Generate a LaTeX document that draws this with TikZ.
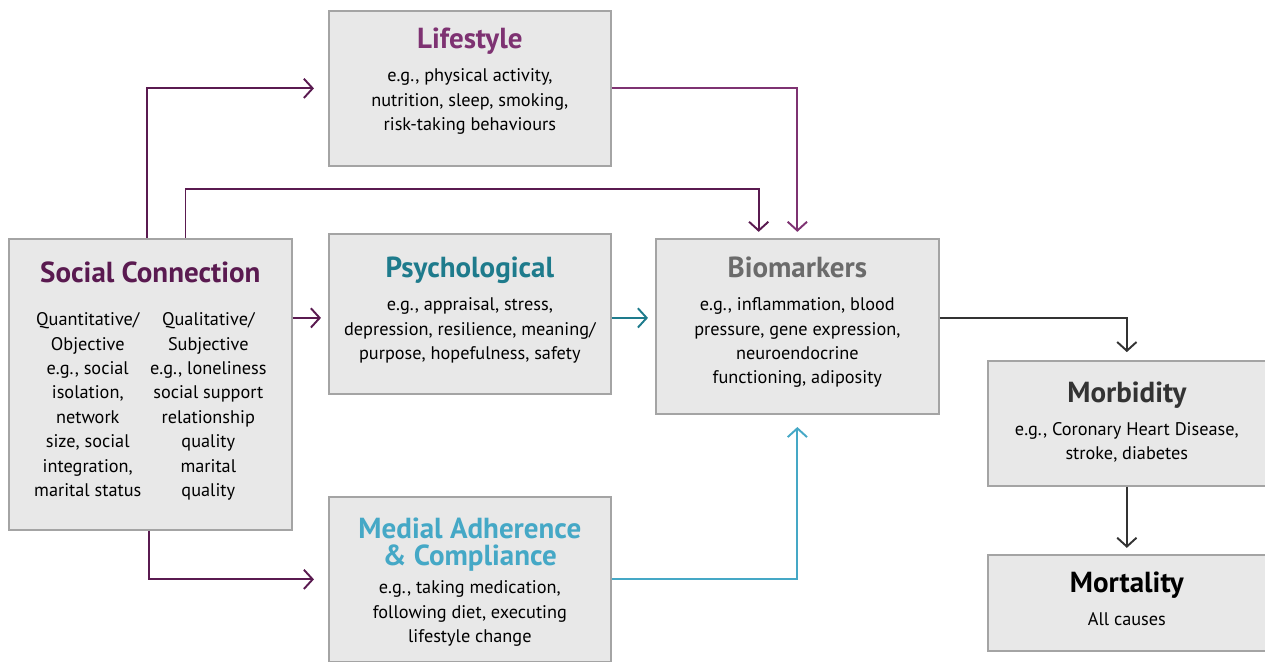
\documentclass[tikz,border=0pt]{standalone}
\usepackage{fontspec}
\setmainfont{PT Sans}
\usetikzlibrary{arrows.meta,positioning,calc}

\definecolor{boxfill}{HTML}{E8E8E8}
\definecolor{boxline}{HTML}{A4A4A4}
\definecolor{socpurple}{HTML}{5A1A50}
\definecolor{lifepurple}{HTML}{7E3272}
\definecolor{psychteal}{HTML}{1E7B8C}
\definecolor{medblue}{HTML}{45A8C6}
\definecolor{biogray}{HTML}{6B6B6B}
\definecolor{outdark}{HTML}{333333}

\newcommand{\heading}[2]{{\fontsize{16.5}{18}\selectfont\bfseries\color{#1}#2}}

\tikzset{
  box/.style = {draw = boxline, fill = boxfill, line width = 1pt, anchor = north west,
                inner sep = 0pt},
  boxtext/.style = {align = center, inner sep = 0pt,
                    font = \fontsize{10.4}{13.9}\selectfont},
  link/.style = {line width = 1.1pt, -{Straight Barb[length=5pt,width=11pt,line width=1.1pt]}},
}

\begin{document}
\begin{tikzpicture}[x = 0.02cm, y = -0.02cm]
  \useasboundingbox (0,0) rectangle (1265,662);

  % boxes
  \node[box, minimum width = 5.64cm, minimum height = 3.1cm] (lifestyle) at (328,10) {};
  \node[box, minimum width = 5.66cm, minimum height = 5.82cm] (social) at (8,238) {};
  \node[box, minimum width = 5.64cm, minimum height = 3.2cm] (psych) at (328,233) {};
  \node[box, minimum width = 5.66cm, minimum height = 3.5cm] (bio) at (655,238) {};
  \node[box, minimum width = 5.64cm, minimum height = 3.3cm] (medial) at (328,496) {};
  \node[box, minimum width = 5.56cm, minimum height = 2.5cm] (morb) at (987,360) {};
  \node[box, minimum width = 5.56cm, minimum height = 1.92cm] (mort) at (987,554) {};

  % texts
  \node[boxtext, below = 10pt of lifestyle.north] (lifestyletext)
    {\heading{lifepurple}{Lifestyle}\\[5pt]
     e.g., physical activity,\\ nutrition, sleep, smoking,\\ risk-taking behaviours};
  \node[boxtext, below = 13.5pt of social.north] (socialtext)
    {\heading{socpurple}{Social Connection}\\[10.5pt]
     \begin{tabular}[t]{@{}c@{\hspace{5pt}}c@{}}
       Quantitative/ & Qualitative/\\
       Objective & Subjective\\
       e.g., social & e.g., loneliness\\
       isolation, & social support\\
       network & relationship\\
       size, social & quality\\
       integration, & marital\\
       marital status & quality
     \end{tabular}};
  \node[boxtext, below = 13.5pt of psych.north] (psychtext)
    {\heading{psychteal}{Psychological}\\[5pt]
     e.g., appraisal, stress,\\ depression, resilience, meaning/\\ purpose, hopefulness, safety};
  \node[boxtext, below = 10.5pt of bio.north] (biotext)
    {\heading{biogray}{Biomarkers}\\[5pt]
     e.g., inflammation, blood\\ pressure, gene expression,\\ neuroendocrine\\ functioning, adiposity};
  \node[boxtext, below = 12.5pt of medial.north] (medialtext)
    {\heading{medblue}{Medial Adherence}\\[1pt]
     \heading{medblue}{\& Compliance}\\[2.5pt]
     e.g., taking medication,\\ following diet, executing\\ lifestyle change};
  \node[boxtext, below = 12pt of morb.north] (morbtext)
    {\heading{outdark}{Morbidity}\\[5pt]
     e.g., Coronary Heart Disease,\\ stroke, diabetes};
  \node[boxtext, below = 10pt of mort.north] (morttext)
    {\heading{black}{Mortality}\\[5pt]
     All causes};

  \coordinate (overpass) at (0,189);

  % links
  \draw[link, socpurple, shorten > = 8pt] ([xshift=-2pt]social.north) |- (lifestyle.west);
  \draw[link, socpurple, shorten > = 3.5pt] ([xshift=20pt]social.north)
    -- ([xshift=20pt]social.north |- overpass) -| ([xshift=-22pt]bio.north);
  \draw[link, lifepurple, shorten > = 3.5pt] (lifestyle.east) -| (bio.north);
  \draw[link, socpurple, shorten > = 4pt] ([yshift=-2.3pt]social.east |- psych.west) -- ([yshift=-2.3pt]psych.west);
  \draw[link, psychteal, shorten > = 4pt] ([yshift=-2.3pt]psych.east) -- ([yshift=-2.3pt]psych.east -| bio.west);
  \draw[link, socpurple, shorten > = 8pt] ([xshift=-1pt]social.south) |- (medial.west);
  \draw[link, medblue, shorten > = 7pt] (medial.east) -| (bio.south);
  \draw[link, outdark, shorten > = 4.5pt] ([yshift=5pt]bio.east) -| (morb.north);
  \draw[link, outdark, shorten > = 3.5pt] (morb.south) -- (mort.north);
\end{tikzpicture}
\end{document}
